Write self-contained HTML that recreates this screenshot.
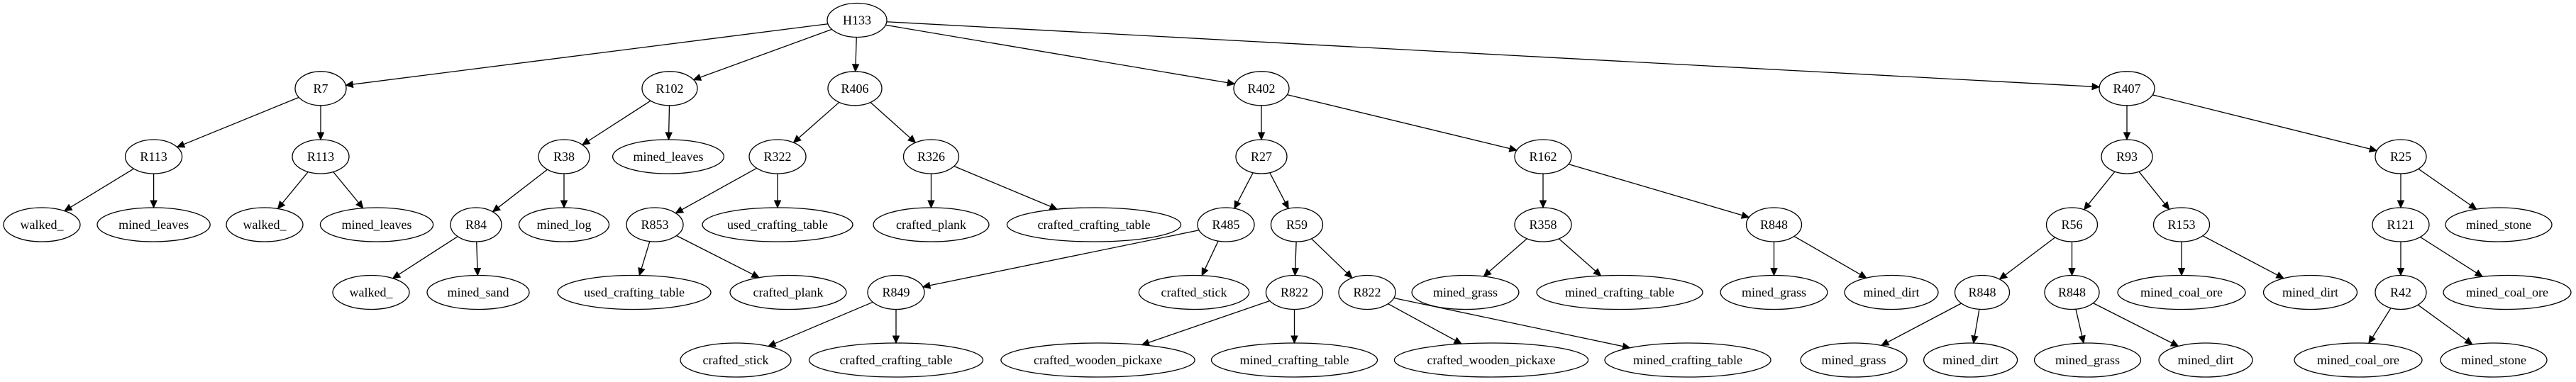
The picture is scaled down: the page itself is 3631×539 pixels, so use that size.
<!DOCTYPE html>
<html><head><meta charset="utf-8"><style>
html,body{margin:0;padding:0;background:#fff;}
svg{display:block;}
ellipse{fill:none;stroke:#000;stroke-width:1.3;}
text{font-family:"Liberation Serif",serif;font-size:18px;text-anchor:middle;dominant-baseline:central;fill:#000;}
</style></head><body>
<svg id="s" width="3631" height="539" viewBox="0 0 3631 539" xmlns="http://www.w3.org/2000/svg">
<g id="edges"></g>
<g id="nodes">
<ellipse id="H133" cx="1208" cy="28.5" rx="42" ry="24"/><text x="1208" y="28.5">H133</text>
<ellipse id="R7" cx="452" cy="124.8" rx="36" ry="24"/><text x="452" y="124.8">R7</text>
<ellipse id="R102" cx="944" cy="124.8" rx="39" ry="24"/><text x="944" y="124.8">R102</text>
<ellipse id="R406" cx="1205" cy="124.8" rx="38" ry="24"/><text x="1205" y="124.8">R406</text>
<ellipse id="R402" cx="1778" cy="124.8" rx="39" ry="24"/><text x="1778" y="124.8">R402</text>
<ellipse id="R407" cx="2998" cy="124.8" rx="39" ry="24"/><text x="2998" y="124.8">R407</text>

<ellipse id="R113a" cx="216.6" cy="221" rx="40" ry="24"/><text x="216.6" y="221">R113</text>
<ellipse id="R113b" cx="452" cy="221" rx="40" ry="24"/><text x="452" y="221">R113</text>
<ellipse id="R38" cx="795" cy="221" rx="36" ry="24"/><text x="795" y="221">R38</text>
<ellipse id="ml0" cx="942" cy="221" rx="78.4" ry="24"/><text x="942" y="221">mined_leaves</text>
<ellipse id="R322" cx="1096" cy="221" rx="40" ry="24"/><text x="1096" y="221">R322</text>
<ellipse id="R326" cx="1312.5" cy="221" rx="39" ry="24"/><text x="1312.5" y="221">R326</text>
<ellipse id="R27" cx="1778" cy="221" rx="36" ry="24"/><text x="1778" y="221">R27</text>
<ellipse id="R162" cx="2175" cy="221" rx="40" ry="24"/><text x="2175" y="221">R162</text>
<ellipse id="R93" cx="2998" cy="221" rx="36" ry="24"/><text x="2998" y="221">R93</text>
<ellipse id="R25" cx="3384" cy="221" rx="36" ry="24"/><text x="3384" y="221">R25</text>

<ellipse id="w1" cx="59" cy="317" rx="54" ry="24"/><text x="59" y="317">walked_</text>
<ellipse id="ml1" cx="216.6" cy="317" rx="79.6" ry="24"/><text x="216.6" y="317">mined_leaves</text>
<ellipse id="w2" cx="373" cy="317" rx="54" ry="24"/><text x="373" y="317">walked_</text>
<ellipse id="ml2" cx="531" cy="317" rx="79.6" ry="24"/><text x="531" y="317">mined_leaves</text>
<ellipse id="R84" cx="671" cy="317" rx="36" ry="24"/><text x="671" y="317">R84</text>
<ellipse id="mlog" cx="795" cy="317" rx="63.5" ry="24"/><text x="795" y="317">mined_log</text>
<ellipse id="R853" cx="923" cy="317" rx="40" ry="24"/><text x="923" y="317">R853</text>
<ellipse id="uct1" cx="1096" cy="317" rx="106" ry="24"/><text x="1096" y="317">used_crafting_table</text>
<ellipse id="cp1" cx="1312.5" cy="317" rx="81.5" ry="24"/><text x="1312.5" y="317">crafted_plank</text>
<ellipse id="cct1" cx="1542" cy="317" rx="122.5" ry="24"/><text x="1542" y="317">crafted_crafting_table</text>
<ellipse id="R485" cx="1728" cy="317" rx="40" ry="24"/><text x="1728" y="317">R485</text>
<ellipse id="R59" cx="1828" cy="317" rx="36.5" ry="24"/><text x="1828" y="317">R59</text>
<ellipse id="R358" cx="2175" cy="317" rx="40" ry="24"/><text x="2175" y="317">R358</text>
<ellipse id="R848a" cx="2500.5" cy="317" rx="39" ry="24"/><text x="2500.5" y="317">R848</text>
<ellipse id="R56" cx="2920.5" cy="317" rx="36" ry="24"/><text x="2920.5" y="317">R56</text>
<ellipse id="R153" cx="3075" cy="317" rx="39.5" ry="24"/><text x="3075" y="317">R153</text>
<ellipse id="R121" cx="3384" cy="317" rx="40" ry="24"/><text x="3384" y="317">R121</text>
<ellipse id="ms1" cx="3522" cy="317" rx="75" ry="24"/><text x="3522" y="317">mined_stone</text>

<ellipse id="w3" cx="523" cy="412.5" rx="54" ry="24"/><text x="523" y="412.5">walked_</text>
<ellipse id="msand" cx="674" cy="412.5" rx="72" ry="24"/><text x="674" y="412.5">mined_sand</text>
<ellipse id="uct2" cx="894" cy="412.5" rx="108" ry="24"/><text x="894" y="412.5">used_crafting_table</text>
<ellipse id="cp2" cx="1111" cy="412.5" rx="82" ry="24"/><text x="1111" y="412.5">crafted_plank</text>
<ellipse id="R849" cx="1263" cy="412.5" rx="40" ry="24"/><text x="1263" y="412.5">R849</text>
<ellipse id="cs1" cx="1683" cy="412.5" rx="77.7" ry="24"/><text x="1683" y="412.5">crafted_stick</text>
<ellipse id="R822a" cx="1824.5" cy="412.5" rx="40" ry="24"/><text x="1824.5" y="412.5">R822</text>
<ellipse id="R822b" cx="1927" cy="412.5" rx="40" ry="24"/><text x="1927" y="412.5">R822</text>
<ellipse id="mg1" cx="2065.5" cy="412.5" rx="75.4" ry="24"/><text x="2065.5" y="412.5">mined_grass</text>
<ellipse id="mct0" cx="2283" cy="412.5" rx="117" ry="24"/><text x="2283" y="412.5">mined_crafting_table</text>
<ellipse id="mg2" cx="2500.5" cy="412.5" rx="75.4" ry="24"/><text x="2500.5" y="412.5">mined_grass</text>
<ellipse id="md1" cx="2666" cy="412.5" rx="66" ry="24"/><text x="2666" y="412.5">mined_dirt</text>
<ellipse id="R848b" cx="2794" cy="412.5" rx="38.5" ry="24"/><text x="2794" y="412.5">R848</text>
<ellipse id="R848c" cx="2920.5" cy="412.5" rx="38.5" ry="24"/><text x="2920.5" y="412.5">R848</text>
<ellipse id="mco1" cx="3075" cy="412.5" rx="90" ry="24"/><text x="3075" y="412.5">mined_coal_ore</text>
<ellipse id="md4" cx="3256.5" cy="412.5" rx="66" ry="24"/><text x="3256.5" y="412.5">mined_dirt</text>
<ellipse id="R42" cx="3384" cy="412.5" rx="36" ry="24"/><text x="3384" y="412.5">R42</text>
<ellipse id="mco2" cx="3534" cy="412.5" rx="90" ry="24"/><text x="3534" y="412.5">mined_coal_ore</text>

<ellipse id="cs2" cx="1037" cy="508" rx="78" ry="24"/><text x="1037" y="508">crafted_stick</text>
<ellipse id="cct2" cx="1263" cy="508" rx="122.5" ry="24"/><text x="1263" y="508">crafted_crafting_table</text>
<ellipse id="cwp1" cx="1547.5" cy="508" rx="136.6" ry="24"/><text x="1547.5" y="508">crafted_wooden_pickaxe</text>
<ellipse id="mct1" cx="1824.5" cy="508" rx="117" ry="24"/><text x="1824.5" y="508">mined_crafting_table</text>
<ellipse id="cwp2" cx="2102" cy="508" rx="136.6" ry="24"/><text x="2102" y="508">crafted_wooden_pickaxe</text>
<ellipse id="mct2" cx="2379" cy="508" rx="117" ry="24"/><text x="2379" y="508">mined_crafting_table</text>
<ellipse id="mg3" cx="2613" cy="508" rx="75" ry="24"/><text x="2613" y="508">mined_grass</text>
<ellipse id="md2" cx="2777.6" cy="508" rx="66" ry="24"/><text x="2777.6" y="508">mined_dirt</text>
<ellipse id="mg4" cx="2942.5" cy="508" rx="75" ry="24"/><text x="2942.5" y="508">mined_grass</text>
<ellipse id="md3" cx="3109" cy="508" rx="66" ry="24"/><text x="3109" y="508">mined_dirt</text>
<ellipse id="mco3" cx="3324" cy="508" rx="90" ry="24"/><text x="3324" y="508">mined_coal_ore</text>
<ellipse id="ms2" cx="3515" cy="508" rx="75" ry="24"/><text x="3515" y="508">mined_stone</text>
</g>
</svg>
<script>
(function(){
var E=[["H133","R7"],["H133","R102"],["H133","R406"],["H133","R402"],["H133","R407"],
["R7","R113a"],["R7","R113b"],["R113a","w1"],["R113a","ml1"],["R113b","w2"],["R113b","ml2"],
["R102","R38"],["R102","ml0"],["R38","R84"],["R38","mlog"],["R84","w3"],["R84","msand"],
["R406","R322"],["R406","R326"],["R322","R853"],["R322","uct1"],["R853","uct2"],["R853","cp2"],["R326","cp1"],["R326","cct1"],
["R402","R27"],["R402","R162"],["R27","R485"],["R27","R59"],["R485","R849"],["R485","cs1"],["R849","cs2"],["R849","cct2"],
["R59","R822a"],["R59","R822b"],["R822a","cwp1"],["R822a","mct1"],["R822b","cwp2"],["R822b","mct2"],
["R162","R358"],["R162","R848a"],["R358","mg1"],["R358","mct0"],["R848a","mg2"],["R848a","md1"],
["R407","R93"],["R407","R25"],["R93","R56"],["R93","R153"],["R56","R848b"],["R56","R848c"],["R848b","mg3"],["R848b","md2"],
["R848c","mg4"],["R848c","md3"],["R153","mco1"],["R153","md4"],["R25","R121"],["R25","ms1"],["R121","R42"],["R121","mco2"],["R42","mco3"],["R42","ms2"]];
function g(id){var e=document.getElementById(id);return{x:+e.getAttribute("cx"),y:+e.getAttribute("cy"),rx:+e.getAttribute("rx"),ry:+e.getAttribute("ry")};}
function bp(n,dx,dy){var t=1/Math.sqrt((dx/n.rx)*(dx/n.rx)+(dy/n.ry)*(dy/n.ry));return[n.x+dx*t,n.y+dy*t];}
var out="",NS="http://www.w3.org/2000/svg";
E.forEach(function(e){var a=g(e[0]),b=g(e[1]);var dx=b.x-a.x,dy=b.y-a.y;
var p=bp(a,dx,dy),q=bp(b,-dx,-dy);var L=Math.hypot(q[0]-p[0],q[1]-p[1]);var ux=(q[0]-p[0])/L,uy=(q[1]-p[1])/L;
var al=10,aw=4.5;var bx=q[0]-ux*al,by=q[1]-uy*al;
out+='<line x1="'+p[0]+'" y1="'+p[1]+'" x2="'+bx+'" y2="'+by+'" stroke="#000" stroke-width="1.3"/>';
out+='<polygon points="'+q[0]+','+q[1]+' '+(bx-uy*aw)+','+(by+ux*aw)+' '+(bx+uy*aw)+','+(by-ux*aw)+'" fill="#000" stroke="#000" stroke-width="1"/>';});
document.getElementById("edges").innerHTML=out;
})();
</script>
</body></html>
